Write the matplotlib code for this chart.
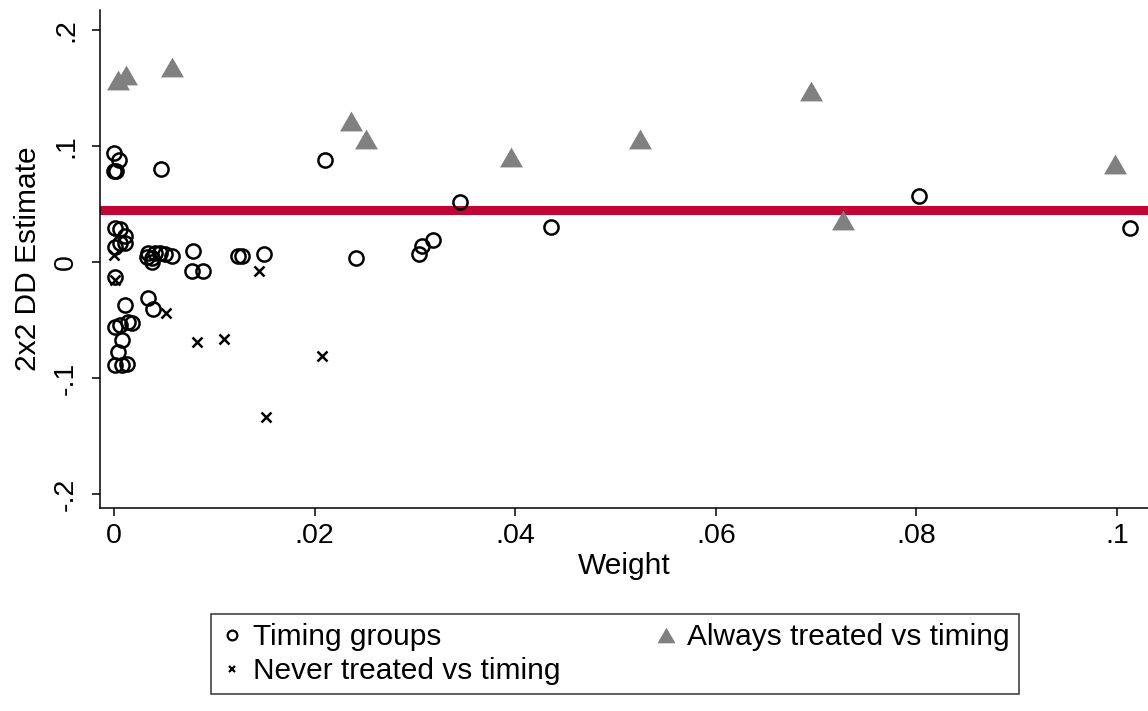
import matplotlib
matplotlib.use("Agg")
import matplotlib.pyplot as plt
from matplotlib.lines import Line2D

plt.rcParams['font.family'] = ['Liberation Sans', 'DejaVu Sans']

# Timing groups (circles)
timing_w = [0.0000, 0.0005, 0.0000, 0.0002, 0.0047, 0.0210, 0.0345, 0.0436, 0.0803, 0.1013,
            0.0304, 0.0307, 0.0318, 0.0241, 0.0150, 0.0124, 0.0128, 0.0079, 0.0078, 0.0089,
            0.0058, 0.0051, 0.0046, 0.0041, 0.0034, 0.0033, 0.0038, 0.0038, 0.0034, 0.0039,
            0.0001, 0.0006, 0.0011, 0.0011, 0.0006, 0.0001, 0.0001, 0.0011, 0.0001, 0.0006,
            0.0014, 0.0018, 0.0008, 0.0004, 0.0001, 0.0008, 0.0013]
timing_v = [0.094, 0.088, 0.078, 0.078, 0.080, 0.088, 0.052, 0.030, 0.057, 0.029,
            0.007, 0.014, 0.019, 0.003, 0.007, 0.005, 0.005, 0.009, -0.008, -0.008,
            0.005, 0.007, 0.008, 0.008, 0.008, 0.004, 0.003, 0.000, -0.031, -0.041,
            0.029, 0.028, 0.022, 0.016, 0.016, 0.013, -0.013, -0.037, -0.056, -0.054,
            -0.052, -0.053, -0.067, -0.078, -0.089, -0.089, -0.088]

# Never treated vs timing (x)
never_w = [0.0000, 0.0001, 0.0052, 0.0083, 0.0110, 0.0145, 0.0207, 0.0152]
never_v = [0.006, -0.016, -0.044, -0.069, -0.066, -0.008, -0.081, -0.134]

# Always treated vs timing (triangles)
always_w = [0.0004, 0.0012, 0.0058, 0.0236, 0.0251, 0.0396, 0.0524, 0.0695, 0.0727, 0.0998]
always_v = [0.157, 0.161, 0.168, 0.121, 0.106, 0.090, 0.106, 0.147, 0.036, 0.084]

overall_dd = 0.045

xticks = [0, 0.02, 0.04, 0.06, 0.08, 0.1]
xticklabels = ['0', '.02', '.04', '.06', '.08', '.1']
yticks = [-0.2, -0.1, 0, 0.1, 0.2]
yticklabels = ['-.2', '-.1', '0', '.1', '.2']

fig = plt.figure(figsize=(11.48, 7.11), dpi=100)
ax = fig.add_axes([100/1148, 1 - 508/711, 1048/1148, 498/711])

tri = [(-1, -0.866), (1, -0.866), (0, 0.866)]
gray = '#808080'
red = '#C10534'

ax.axhline(overall_dd, color=red, lw=6.5, zorder=1)
ax.plot(timing_w, timing_v, ls='none', marker='o', ms=10.2, mfc='none', mec='black', mew=1.8, zorder=3)
ax.plot(never_w, never_v, ls='none', marker='x', ms=6.5, mec='black', mew=1.8, zorder=3)
ax.plot(always_w, always_v, ls='none', marker=tri, ms=16.5, mfc=gray, mec=gray, mew=0, zorder=2)

ax.set_xlim(-0.0014, 0.1031)
ax.set_ylim(-0.212, 0.217)
ax.set_xticks(xticks)
ax.set_xticklabels(xticklabels)
ax.set_yticks(yticks)
ax.set_yticklabels(yticklabels, rotation=90, va='center')
ax.tick_params(axis='both', direction='out', length=6, width=1.1, labelsize=20.5, colors='black')
ax.tick_params(axis='y', pad=9)
ax.tick_params(axis='x', pad=5)
for s in ['top', 'right']:
    ax.spines[s].set_visible(False)
for s in ['left', 'bottom']:
    ax.spines[s].set_linewidth(1.1)

ax.set_xlabel('Weight', fontsize=21.5, labelpad=2)
ax.set_ylabel('2x2 DD Estimate', fontsize=21.5, labelpad=8)

handles = [
    Line2D([], [], ls='none', marker='o', ms=7, mfc='none', mec='black', mew=1.6),
    Line2D([], [], ls='none', marker='x', ms=5, mec='black', mew=1.6),
    Line2D([], [], ls='none', marker=tri, ms=13, mfc=gray, mec=gray, mew=0),
]
labels = ['Timing groups', 'Never treated vs timing', 'Always treated vs timing']
leg = fig.legend(handles, labels, loc='center', bbox_to_anchor=(615/1148, 1 - 654/711),
                 ncol=2, fontsize=21.5, frameon=True, fancybox=False, edgecolor='black',
                 handlelength=0.8, handletextpad=0.3, columnspacing=3.15, labelspacing=0.2,
                 borderpad=0.3, borderaxespad=0)
leg.get_frame().set_linewidth(1.1)

fig.savefig('out.png', dpi=100, facecolor='white')
